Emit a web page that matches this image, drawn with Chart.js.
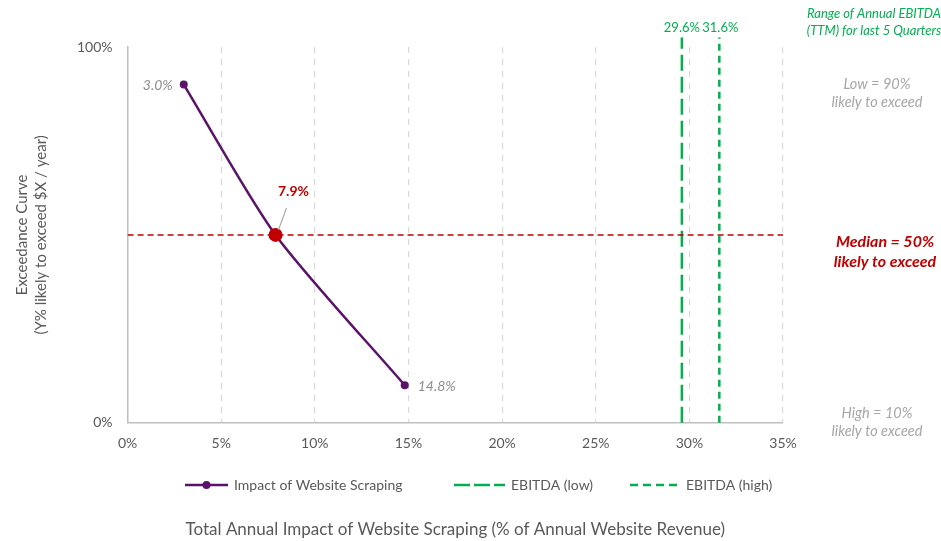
<!DOCTYPE html>
<html>
<head>
<meta charset="utf-8">
<script src="https://cdn.jsdelivr.net/npm/chart.js@4/dist/chart.umd.min.js"></script>
<style>
  html, body { margin: 0; padding: 0; background: #fff; }
  #wrap { width: 941px; height: 541px; position: relative; }
</style>
</head>
<body>
<div id="wrap"><canvas id="c"></canvas></div>
<script>
// Exceedance curve: impact (% of annual website revenue) vs. likelihood to exceed
const scrapingImpact = [3.0, 7.9, 14.8];
const exceedProbability = [0.9, 0.5, 0.1];
// EBITDA range (TTM, last 5 quarters), % of annual website revenue
const ebitdaLow = 29.6;
const ebitdaHigh = 31.6;
const ebitdaTop = 1.025;          // the EBITDA markers run a little above the plot
const medianLevel = 0.5;
const xRange = [0, 35];
const xTickStep = 5;
const yTickValues = [0, 1];

const FONT = 'Lato, "Open Sans", "Liberation Sans", sans-serif';
const PURPLE = '#5c126b';
const GREEN = '#00b050';
const RED = '#c00000';
const AXIS_GRAY = '#595959';

const pct = v => (v * 100).toFixed(0) + '%';

const curvePoints = scrapingImpact.map((x, i) => ({ x, y: exceedProbability[i] }));
const medianIdx = exceedProbability.indexOf(medianLevel);

// legend row under the x tick labels
const legendRow = {
  id: 'legendRow',
  afterDraw(chart) {
    const { ctx } = chart;
    const y = 485;
    const starts = [185, 454, 630];
    const glyphW = [43, 51, 50];
    ctx.save();
    ctx.font = '14px ' + FONT;
    ctx.fillStyle = AXIS_GRAY;
    ctx.textBaseline = 'middle';
    ctx.textAlign = 'left';
    chart.data.datasets.slice(0, 3).forEach((ds, i) => {
      const x0 = starts[i], w = glyphW[i];
      ctx.save();
      ctx.strokeStyle = ds.borderColor;
      ctx.lineWidth = 2.5;
      ctx.setLineDash(i === 0 ? [] : (i === 1 ? [16, 4] : [8, 5]));
      ctx.beginPath();
      ctx.moveTo(x0, y);
      ctx.lineTo(x0 + w, y);
      ctx.stroke();
      if (i === 0) {
        ctx.fillStyle = ds.borderColor;
        ctx.beginPath();
        ctx.arc(x0 + w / 2, y, 4, 0, Math.PI * 2);
        ctx.fill();
      }
      ctx.restore();
      ctx.fillText(ds.label, x0 + w + 6, y);
    });
    ctx.restore();
  }
};

// value labels next to the curve points
const pointLabels = {
  id: 'pointLabels',
  afterDatasetsDraw(chart) {
    const { ctx } = chart;
    const pts = chart.getDatasetMeta(0).data;
    ctx.save();
    ctx.textBaseline = 'middle';
    pts.forEach((p, i) => {
      const txt = scrapingImpact[i].toFixed(1) + '%';
      if (i === medianIdx) {
        ctx.strokeStyle = '#a6a6a6';
        ctx.lineWidth = 1.2;
        ctx.beginPath();
        ctx.moveTo(p.x + 3, p.y - 5);
        ctx.lineTo(p.x + 11, p.y - 27);
        ctx.stroke();
        ctx.font = 'bold 14px ' + FONT;
        ctx.fillStyle = RED;
        ctx.textAlign = 'center';
        ctx.fillText(txt, p.x + 18, p.y - 43);
      } else {
        ctx.font = 'italic 14px ' + FONT;
        ctx.fillStyle = '#8c8c8c';
        if (i === 0) { ctx.textAlign = 'right'; ctx.fillText(txt, p.x - 11, p.y + 1); }
        else { ctx.textAlign = 'left'; ctx.fillText(txt, p.x + 13, p.y + 1); }
      }
    });
    ctx.restore();
  }
};

// side notes and EBITDA value captions
const notes = {
  id: 'notes',
  afterDraw(chart) {
    const { ctx, scales } = chart;
    const xs = scales.x, ys = scales.y;
    ctx.save();
    ctx.textAlign = 'center';
    ctx.textBaseline = 'middle';

    ctx.font = '13px ' + FONT;
    ctx.fillStyle = GREEN;
    ctx.fillText(ebitdaLow.toFixed(1) + '%', xs.getPixelForValue(ebitdaLow), 28);
    ctx.fillText(ebitdaHigh.toFixed(1) + '%', xs.getPixelForValue(ebitdaHigh) + 1, 28);

    ctx.font = 'italic 13px ' + FONT;
    ctx.fillText('Range of Annual EBITDA', 874, 14);
    ctx.fillText('(TTM) for last 5 Quarters', 874, 31);

    ctx.fillStyle = '#a6a6a6';
    ctx.font = 'italic 14.5px ' + FONT;
    const yLow = ys.getPixelForValue(0.9);
    ctx.fillText('Low = 90%', 877, yLow);
    ctx.fillText('likely to exceed', 877, yLow + 18);

    const yHigh = ys.getPixelForValue(0);
    ctx.fillText('High = 10%', 877, yHigh - 9);
    ctx.fillText('likely to exceed', 877, yHigh + 9);

    ctx.fillStyle = RED;
    ctx.font = 'italic bold 16px ' + FONT;
    const yMed = ys.getPixelForValue(medianLevel);
    ctx.fillText('Median = 50%', 885, yMed + 7);
    ctx.fillText('likely to exceed', 885, yMed + 27);
    ctx.restore();
  }
};

new Chart(document.getElementById('c'), {
  type: 'line',
  data: {
    datasets: [
      {
        label: 'Impact of Website Scraping',
        data: curvePoints,
        borderColor: PURPLE,
        borderWidth: 2.5,
        tension: 0.25,
        pointRadius: curvePoints.map((_, i) => i === medianIdx ? 7 : 4),
        pointBackgroundColor: curvePoints.map((_, i) => i === medianIdx ? RED : PURPLE),
        pointBorderColor: curvePoints.map((_, i) => i === medianIdx ? RED : PURPLE),
        pointBorderWidth: 0,
        order: 0
      },
      {
        label: 'EBITDA (low)',
        data: [{ x: ebitdaLow, y: 0 }, { x: ebitdaLow, y: ebitdaTop }],
        borderColor: GREEN,
        borderWidth: 2.5,
        borderDash: [16, 6],
        pointRadius: 0,
        clip: false,
        order: 2
      },
      {
        label: 'EBITDA (high)',
        data: [{ x: ebitdaHigh, y: 0 }, { x: ebitdaHigh, y: ebitdaTop }],
        borderColor: GREEN,
        borderWidth: 2.5,
        borderDash: [7, 5],
        pointRadius: 0,
        clip: false,
        order: 2
      },
      {
        label: 'Median',
        data: [{ x: xRange[0], y: medianLevel }, { x: xRange[1], y: medianLevel }],
        borderColor: RED,
        borderWidth: 1.5,
        borderDash: [6, 4],
        pointRadius: 0,
        order: 1
      }
    ]
  },
  options: {
    responsive: true,
    maintainAspectRatio: false,
    animation: false,
    layout: { padding: { top: 47, right: 158, left: 4, bottom: 0 } },
    scales: {
      x: {
        type: 'linear',
        min: xRange[0],
        max: xRange[1],
        ticks: {
          stepSize: xTickStep,
          color: AXIS_GRAY,
          font: { family: FONT, size: 14 },
          padding: 12,
          callback: v => v + '%'
        },
        grid: { color: '#d9d9d9', lineWidth: 1.2, drawTicks: false },
        border: { display: true, color: '#bfbfbf', width: 1.5, dash: [6, 6] },
        title: {
          display: true,
          text: 'Total Annual Impact of Website Scraping (% of Annual Website Revenue)',
          color: AXIS_GRAY,
          font: { family: FONT, size: 17 },
          padding: { top: 56, bottom: 1 }
        }
      },
      y: {
        type: 'linear',
        min: 0,
        max: 1,
        afterBuildTicks: s => { s.ticks = yTickValues.map(v => ({ value: v })); },
        ticks: {
          color: AXIS_GRAY,
          font: { family: FONT, size: 14 },
          padding: 15,
          callback: v => pct(v)
        },
        grid: { display: false, drawTicks: false },
        border: { display: true, color: '#bfbfbf', width: 1.5 },
        title: {
          display: true,
          text: ['Exceedance Curve', '(Y% likely to exceed $X / year)'],
          color: AXIS_GRAY,
          font: { family: FONT, size: 15, lineHeight: 1.3 },
          padding: { top: 8, bottom: 11 }
        }
      }
    },
    plugins: {
      legend: { display: false },
      tooltip: { enabled: false }
    }
  },
  plugins: [pointLabels, notes, legendRow]
});
</script>
</body>
</html>
